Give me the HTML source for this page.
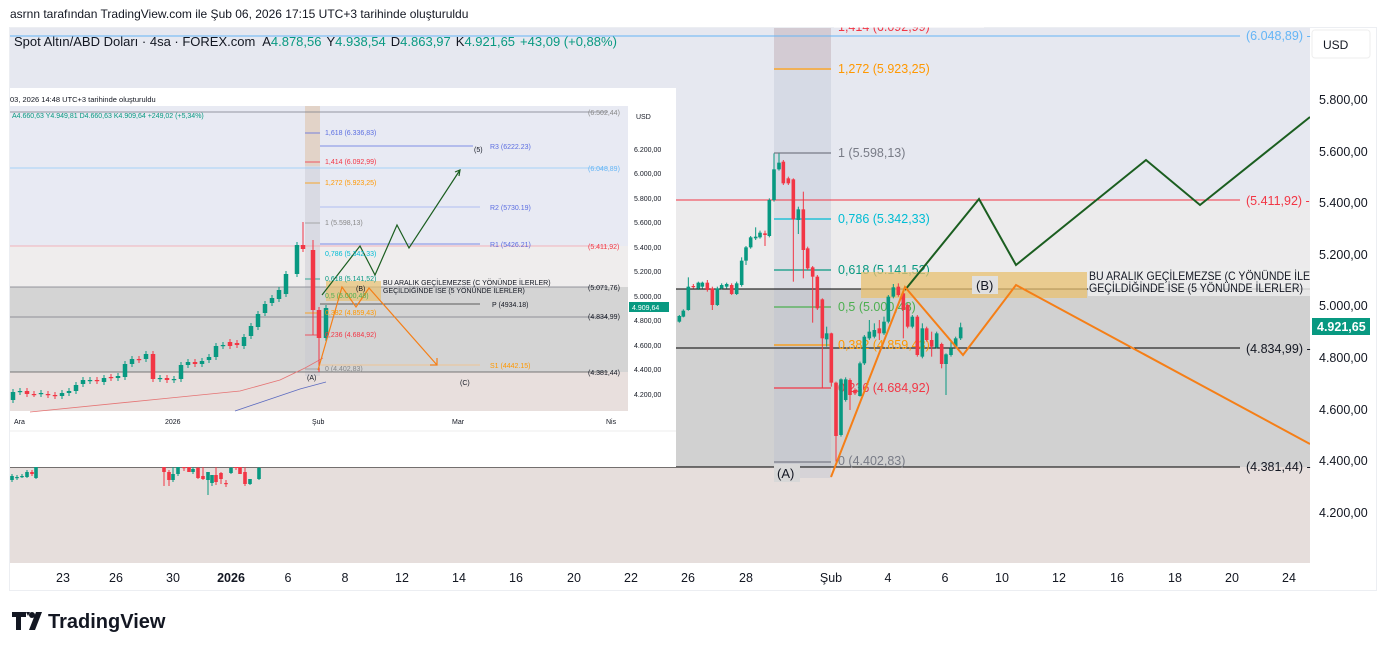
<!DOCTYPE html>
<html><head><meta charset="utf-8"><style>
html,body{margin:0;padding:0;background:#fff;width:1386px;height:651px;overflow:hidden}
svg{display:block}
text{font-family:"Liberation Sans",sans-serif}
</style></head><body>
<svg id="s" width="1386" height="651" xmlns="http://www.w3.org/2000/svg">
<rect width="1386" height="651" fill="#fff"/>
<text x="10" y="18" font-size="12" fill="#131722">asrnn tarafından TradingView.com ile Şub 06, 2026 17:15 UTC+3 tarihinde oluşturuldu</text>
<!-- frame -->
<rect x="9.5" y="27.5" width="1367" height="563" fill="#fff" stroke="#eceef2"/>
<!-- main bands -->
<rect x="10" y="28" width="1300" height="172" fill="#e6e8f0"/>
<rect x="10" y="200" width="1300" height="89" fill="#ecebec"/>
<rect x="10" y="289" width="1300" height="178" fill="#d1d1d1"/>
<rect x="10" y="467" width="1300" height="96" fill="#e6dedc"/>
<!-- fib shade -->
<rect x="774" y="28" width="57" height="450" fill="#b4b9cc" opacity="0.3"/>
<rect x="774" y="28" width="57" height="40" fill="#d0b4b8" opacity="0.4"/>
<line x1="10" y1="36" x2="1240" y2="36" stroke="#64b5f6" stroke-width="1"/>
<line x1="10" y1="200" x2="1240" y2="200" stroke="#f23645" stroke-width="1"/>
<line x1="10" y1="289" x2="1310" y2="289" stroke="#000" stroke-width="1"/>
<line x1="10" y1="348" x2="1240" y2="348" stroke="#000" stroke-width="1"/>
<line x1="10" y1="467" x2="1240" y2="467" stroke="#000" stroke-width="1"/>
<!-- fib lines -->
<g stroke-width="1.3">
<line x1="774" y1="69" x2="831" y2="69" stroke="#ff9800"/>
<line x1="774" y1="153" x2="831" y2="153" stroke="#787b86"/>
<line x1="774" y1="219" x2="831" y2="219" stroke="#00bcd4"/>
<line x1="774" y1="270" x2="831" y2="270" stroke="#089981"/>
<line x1="774" y1="307" x2="831" y2="307" stroke="#4caf50"/>
<line x1="774" y1="345" x2="831" y2="345" stroke="#ff9800"/>
<line x1="774" y1="388" x2="831" y2="388" stroke="#f23645"/>
<line x1="774" y1="462" x2="831" y2="462" stroke="#787b86"/>
</g>
<g font-size="12.5">
<text x="838" y="31" fill="#f23645">1,414 (6.092,99)</text>
<text x="838" y="73" fill="#ff9800">1,272 (5.923,25)</text>
<text x="838" y="157" fill="#787b86">1 (5.598,13)</text>
<text x="838" y="223" fill="#00bcd4">0,786 (5.342,33)</text>
<text x="838" y="274" fill="#089981">0,618 (5.141,52)</text>
<text x="838" y="311" fill="#4caf50">0,5 (5.000,48)</text>
<text x="838" y="349" fill="#ff9800">0,382 (4.859,43)</text>
<text x="838" y="392" fill="#f23645">0,236 (4.684,92)</text>
<text x="838" y="465" fill="#787b86">0 (4.402,83)</text>
</g>
<rect x="834" y="0" width="150" height="27.5" fill="#fff"/>
<rect x="861" y="272" width="226" height="26" fill="#e8c070" opacity="0.75"/>
<g id="mc"></g>
<!-- labels -->
<rect x="972" y="276" width="26" height="18" fill="#e0e0e0"/>
<text x="976" y="290" font-size="13" fill="#131722">(B)</text>
<rect x="774" y="464" width="26" height="18" fill="#d8d8d8"/>
<text x="777" y="478" font-size="13" fill="#131722">(A)</text>
<rect x="1088" y="268" width="222" height="28" fill="#ececec" opacity="0.85"/>
<text x="1089" y="280" font-size="12" fill="#131722" textLength="221" lengthAdjust="spacingAndGlyphs">BU ARALIK GEÇİLEMEZSE (C YÖNÜNDE İLE</text>
<text x="1089" y="292" font-size="12" fill="#131722" textLength="214" lengthAdjust="spacingAndGlyphs">GEÇİLDİĞİNDE İSE (5 YÖNÜNDE İLERLER)</text>
<!-- projections -->
<polyline points="905,290 979,199 1016,265 1146,160 1200,205 1310,117" fill="none" stroke="#1b5e20" stroke-width="2"/>
<polyline points="831,477 905,287 963,355 1016,285 1310,444" fill="none" stroke="#f57f17" stroke-width="2"/>
<!-- right axis -->
<rect x="1310" y="28" width="66" height="562" fill="#fff"/>
<rect x="1312" y="30" width="58" height="28" rx="3" fill="#fff" stroke="#eee"/>
<text x="1323" y="49" font-size="12" fill="#131722">USD</text>
<g font-size="12.5" fill="#131722">
<text x="1319" y="104">5.800,00</text>
<text x="1319" y="156">5.600,00</text>
<text x="1319" y="207">5.400,00</text>
<text x="1319" y="259">5.200,00</text>
<text x="1319" y="310">5.000,00</text>
<text x="1319" y="362">4.800,00</text>
<text x="1319" y="414">4.600,00</text>
<text x="1319" y="465">4.400,00</text>
<text x="1319" y="517">4.200,00</text>
</g>
<rect x="1312" y="318" width="58" height="17" fill="#089981"/>
<text x="1317" y="331" font-size="12.5" font-weight="bold" fill="#fff">4.921,65</text>
<g font-size="12.5">
<text x="1246" y="40" fill="#64b5f6">(6.048,89) -</text>
<text x="1246" y="205" fill="#f23645">(5.411,92) -</text>
<text x="1246" y="353" fill="#131722">(4.834,99) -</text>
<text x="1246" y="471" fill="#131722">(4.381,44) -</text>
</g>
<!-- x axis -->
<g font-size="12.5" fill="#131722" text-anchor="middle">
<text x="63" y="582">23</text><text x="116" y="582">26</text><text x="173" y="582">30</text>
<text x="231" y="582" font-weight="bold">2026</text><text x="288" y="582">6</text><text x="345" y="582">8</text>
<text x="402" y="582">12</text><text x="459" y="582">14</text><text x="516" y="582">16</text>
<text x="574" y="582">20</text><text x="631" y="582">22</text><text x="688" y="582">26</text>
<text x="746" y="582">28</text><text x="831" y="582">Şub</text><text x="888" y="582">4</text>
<text x="945" y="582">6</text><text x="1002" y="582">10</text><text x="1059" y="582">12</text>
<text x="1117" y="582">16</text><text x="1175" y="582">18</text><text x="1232" y="582">20</text>
<text x="1289" y="582">24</text>
</g>
<!-- header -->
<text x="14" y="46" font-size="13" fill="#131722">Spot Altın/ABD Doları · 4sa · FOREX.com <tspan dx="4">A</tspan><tspan fill="#089981">4.878,56</tspan><tspan dx="5">Y</tspan><tspan fill="#089981">4.938,54</tspan><tspan dx="5">D</tspan><tspan fill="#089981">4.863,97</tspan><tspan dx="5">K</tspan><tspan fill="#089981">4.921,65</tspan><tspan dx="5" fill="#089981">+43,09 (+0,88%)</tspan></text>

<!-- INSET -->
<rect x="10" y="88" width="666" height="379" fill="#fff"/>
<text x="10" y="102" font-size="7.5" fill="#131722">03, 2026 14:48 UTC+3 tarihinde oluşturuldu</text>
<rect x="10" y="106" width="618" height="140" fill="#e8eaf3"/>
<rect x="10" y="246" width="618" height="41" fill="#efeded"/>
<rect x="10" y="287" width="618" height="85" fill="#d4d4d4"/>
<rect x="10" y="372" width="618" height="39" fill="#e8dfdd"/>
<rect x="305" y="106" width="15" height="270" fill="#c8c8d0" opacity="0.45"/>
<rect x="305" y="106" width="15" height="60" fill="#f0c8a0" opacity="0.4"/>
<g stroke-width="0.8">
<line x1="10" y1="112" x2="608" y2="112" stroke="#787b86"/>
<line x1="10" y1="168" x2="608" y2="168" stroke="#90caf9"/>
<line x1="10" y1="246" x2="608" y2="246" stroke="#f5a0a8"/>
<line x1="10" y1="287" x2="608" y2="287" stroke="#787b86"/>
<line x1="10" y1="317" x2="608" y2="317" stroke="#787b86"/>
<line x1="10" y1="372" x2="608" y2="372" stroke="#555"/>
<line x1="320" y1="146" x2="473" y2="146" stroke="#5b6ee1"/>
<line x1="320" y1="207" x2="480" y2="207" stroke="#9fb0ef"/>
<line x1="320" y1="244" x2="480" y2="244" stroke="#5b6ee1"/>
<line x1="320" y1="304" x2="480" y2="304" stroke="#333"/>
<line x1="320" y1="365" x2="480" y2="365" stroke="#f7c080"/>
<line x1="305" y1="133" x2="320" y2="133" stroke="#5b6ee1"/>
<line x1="305" y1="162" x2="320" y2="162" stroke="#f23645"/>
<line x1="305" y1="183" x2="320" y2="183" stroke="#ff9800"/>
<line x1="305" y1="223" x2="320" y2="223" stroke="#999"/>
<line x1="305" y1="279" x2="320" y2="279" stroke="#089981"/>
<line x1="305" y1="313" x2="320" y2="313" stroke="#ff9800"/>
<line x1="305" y1="335" x2="320" y2="335" stroke="#f23645"/>
<line x1="305" y1="369" x2="320" y2="369" stroke="#999"/>
</g>
<polyline points="30,412 170,398 240,391 280,380 305,368 323,358" fill="none" stroke="#e57373" stroke-width="0.8"/>
<polyline points="235,411 300,389 326,382" fill="none" stroke="#5c6bc0" stroke-width="0.8"/>
<g id="ic"></g>
<rect x="326" y="281" width="55" height="20" fill="#e8c070" opacity="0.7"/>
<polyline points="322,295 360,246 375,275 397,225 409,248 460,170" fill="none" stroke="#1b5e20" stroke-width="1.2"/>
<polyline points="455,172 460,170 459,176" fill="none" stroke="#1b5e20" stroke-width="1.2"/>
<polyline points="318,370 342,287 356,307 369,288 437,365" fill="none" stroke="#f57f17" stroke-width="1.2"/>
<polyline points="430,365 437,365 437,358" fill="none" stroke="#f57f17" stroke-width="1.2"/>
<g font-size="7" fill="#131722">
<text x="12" y="118" fill="#089981">A4.660,63  Y4.949,81  D4.660,63  K4.909,64  +249,02 (+5,34%)</text>
<text x="325" y="135" fill="#5b6ee1">1,618 (6.336,83)</text>
<text x="325" y="164" fill="#f23645">1,414 (6.092,99)</text>
<text x="325" y="185" fill="#ff9800">1,272 (5.923,25)</text>
<text x="325" y="225" fill="#888">1 (5.598,13)</text>
<text x="325" y="256" fill="#00bcd4">0,786 (5.342,33)</text>
<text x="325" y="281" fill="#089981">0,618 (5.141,52)</text>
<text x="325" y="298" fill="#4caf50">0,5 (5.000,48)</text>
<text x="325" y="315" fill="#ff9800">0,382 (4.859,43)</text>
<text x="325" y="337" fill="#f23645">0,236 (4.684,92)</text>
<text x="325" y="371" fill="#888">0 (4.402,83)</text>
<text x="490" y="149" fill="#5b6ee1">R3 (6222.23)</text>
<text x="490" y="210" fill="#5b6ee1">R2 (5730.19)</text>
<text x="490" y="247" fill="#5b6ee1">R1 (5426.21)</text>
<text x="492" y="307">P (4934.18)</text>
<text x="490" y="368" fill="#ff9800">S1 (4442.15)</text>
<text x="474" y="152">(5)</text>
<text x="356" y="291">(B)</text>
<text x="307" y="380">(A)</text>
<text x="460" y="385">(C)</text>
<text x="383" y="285">BU ARALIK GEÇİLEMEZSE (C YÖNÜNDE İLERLER)</text>
<text x="383" y="293">GEÇİLDİĞİNDE İSE (5 YÖNÜNDE İLERLER)</text>
<text x="588" y="115" fill="#888">(6.502,44)</text>
<text x="588" y="171" fill="#64b5f6">(6.048,89)</text>
<text x="588" y="249" fill="#f23645">(5.411,92)</text>
<text x="588" y="290">(5.071,76)</text>
<text x="588" y="319">(4.834,99)</text>
<text x="588" y="375">(4.381,44)</text>
<text x="636" y="119">USD</text>
<text x="634" y="152">6.200,00</text><text x="634" y="176">6.000,00</text>
<text x="634" y="201">5.800,00</text><text x="634" y="225">5.600,00</text>
<text x="634" y="250">5.400,00</text><text x="634" y="274">5.200,00</text>
<text x="634" y="299">5.000,00</text><text x="634" y="323">4.800,00</text>
<text x="634" y="348">4.600,00</text><text x="634" y="372">4.400,00</text>
<text x="634" y="397">4.200,00</text>
<text x="14" y="424">Ara</text><text x="165" y="424">2026</text><text x="312" y="424">Şub</text>
<text x="452" y="424">Mar</text><text x="606" y="424">Nis</text>
</g>
<rect x="629" y="302" width="40" height="10" fill="#089981"/>
<text x="632" y="310" font-size="7" fill="#fff">4.909,64</text>
<line x1="10" y1="431" x2="676" y2="431" stroke="#eee"/>

<!-- logo -->
<g fill="#131722">
<path d="M12 612h14v5h-5v13h-5v-13h-4z M26 612h4l-2 4z"/>
<circle cx="32" cy="615" r="3"/>
<path d="M36 612h6l-7 18h-6z"/>
</g>
<text x="48" y="628" font-size="20" font-weight="bold" fill="#131722">TradingView</text>
</svg>
<script>
var G="#089981",R="#f23645",ns="http://www.w3.org/2000/svg";
function cand(g,x,o,c,h,l,w){
 var col=c<o?G:R;
 var ln=document.createElementNS(ns,"line");
 ln.setAttribute("x1",x);ln.setAttribute("x2",x);ln.setAttribute("y1",Math.min(h,o,c));ln.setAttribute("y2",Math.max(l,o,c));
 ln.setAttribute("stroke",col);ln.setAttribute("stroke-width",1);g.appendChild(ln);
 var r=document.createElementNS(ns,"rect");
 r.setAttribute("x",x-w/2);r.setAttribute("width",w);r.setAttribute("y",Math.min(o,c));r.setAttribute("height",Math.max(1.2,Math.abs(o-c)));
 r.setAttribute("fill",col);g.appendChild(r);
}
var m=[[28,545,528,525,548],[40,530,512,508,532],[55,510,440,412,512],[70,438,441,432,445],[85,445,428,425,450],[97,440,428,425,445],[112,428,450,420,455],[127,445,495,440,510],[142,495,445,440,498],[155,445,435,430,448],[170,440,432,428,445],[185,435,462,430,465],[200,462,430,425,465],[215,435,362,352,440],[228,362,322,318,375],[242,322,292,288,326],[257,295,290,262,300],[270,292,278,272,296],[285,280,285,272,318],[298,288,180,175,292],[312,180,88,40,185],[327,88,68,40,92],[340,65,130,60,135],[355,115,130,110,135],[370,118,238,115,425],[385,240,208,200,282],[400,208,330,155,415],[413,325,385,320,390],[428,382,410,378,548],[442,410,505,405,510],[457,478,595,475,745],[470,598,580,560,620],[484,580,728,578,740],[498,728,888,725,965],[513,885,718,715,890],[527,780,718,712,785],[540,720,765,715,810],[555,750,760,745,765],[570,768,670,665,770],[583,670,590,585,675],[598,595,575,540,600],[613,590,570,550,595],[628,565,580,540,600],[642,580,545,530,585],[655,545,470,465,550],[670,470,442,432,475],[685,440,465,430,470],[700,460,510,455,595],[713,495,560,490,565],[727,560,530,525,565],[742,530,645,525,650],[757,650,565,550,655],[770,565,600,560,605],[785,600,620,575,650],[800,622,580,575,625],[815,612,672,608,685],[828,672,643,640,765],[843,645,625,600,650],[857,620,595,590,625],[872,595,562,548,600]];
var mg=document.getElementById("mc");
m.forEach(function(a){cand(mg,a[0]/3+670,a[1]/3+140,a[2]/3+140,a[3]/3+140,a[4]/3+140,3.6);});
[[12,480,476,474,482],[17,478,477,475,480],[22,477,476,474,478],[27,477,472,470,478],[32,472,474,470,476],[36,478,466,466,479],[164,467,472,466,486],[169,472,480,470,486],[173,480,474,466,482],[178,474,467,466,476],[184,467,468,466,471],[189,467,472,466,472],[193,472,469,466,474],[198,468,478,466,479],[203,476,479,466,480],[208,480,472,474,495],[212,483,475,475,486],[216,475,482,466,485],[221,473,479,472,484],[226,483,483,480,487],[231,473,468,466,474],[236,466,468,466,470],[240,467,474,466,474],[245,472,484,466,486],[250,484,479,479,485],[259,479,468,466,480]].forEach(function(a){cand(mg,a[0],a[1],a[2],a[3],a[4],3.6);});
var ic=document.getElementById("ic");
var iv=[[13,400,392],[20,392,391],[27,391,394],[34,394,394],[41,394,393],[48,394,395],[55,395,396],[62,396,393],[69,393,391],[76,391,385],[83,384,380],[90,381,380],[97,380,381],[104,382,378],[111,377,378],[118,378,376],[125,377,364],[132,364,359],[139,359,360],[146,359,354],[153,354,379],[160,379,378],[167,378,380],[174,380,379],[181,379,365],[188,365,362],[195,362,364],[202,364,361],[209,360,357],[216,357,346],[223,346,345],[230,342,346],[237,343,345],[244,346,337],[251,336,326],[258,327,314],[265,313,304],[272,303,298],[279,299,290],[286,294,274],[297,274,245],[303,245,249],[313,250,310],[319,310,338],[326,338,308]];
iv.forEach(function(a){var h=Math.min(a[1],a[2])-3,l=Math.max(a[1],a[2])+3;
 if(a[0]==303){h=222;} if(a[0]==313){h=240;l=335;} if(a[0]==319){l=372;}
 cand(ic,a[0],a[1],a[2],h,l,4.5);});
</script>
</body></html>
